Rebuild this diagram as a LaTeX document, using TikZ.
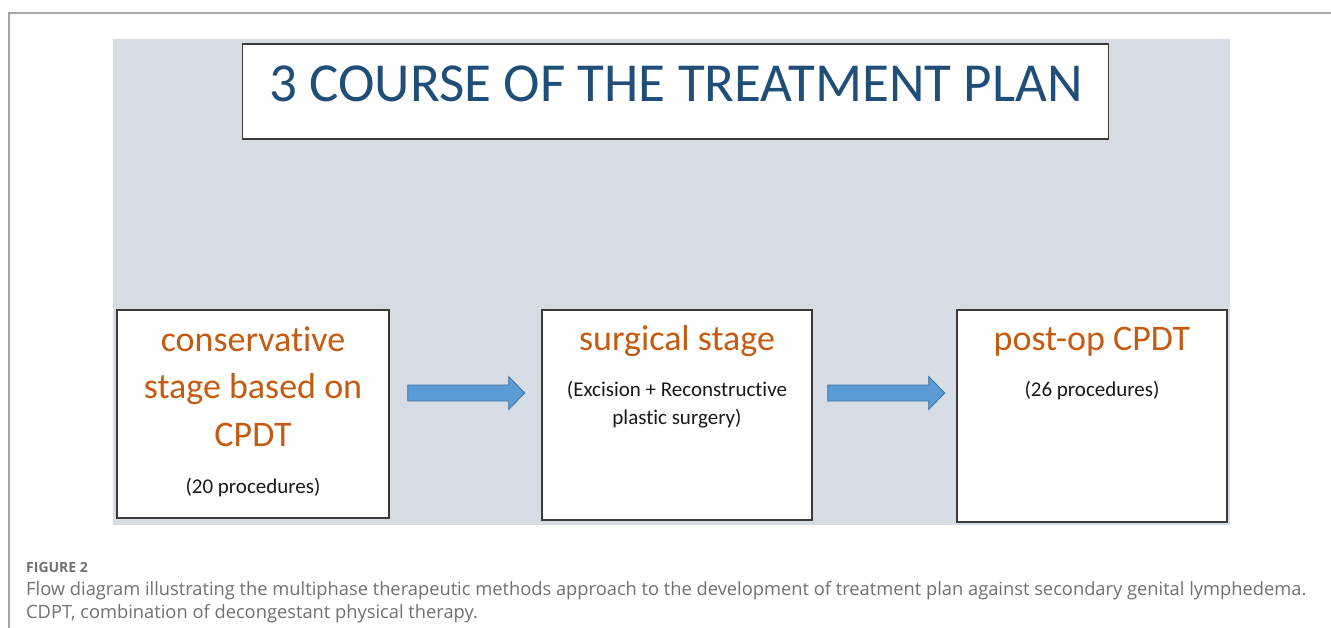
\documentclass[tikz,border=0pt]{standalone}
\usepackage{fontspec}
\setmainfont{Carlito}[Ligatures=NoCommon]
\newfontfamily\captionfont{Open Sans}[Ligatures=NoCommon]
\usetikzlibrary{calc}

\definecolor{panel}{HTML}{D5DCE4}
\definecolor{titleblue}{HTML}{1F4E79}
\definecolor{stageorange}{HTML}{C55A11}
\definecolor{arrowfill}{HTML}{5B9BD5}
\definecolor{arrowline}{HTML}{41719C}
\definecolor{boxline}{HTML}{3A3A3A}
\definecolor{framegray}{HTML}{A6A6A6}
\definecolor{captiongray}{HTML}{707070}

\tikzset{
  stagebox/.style={draw=boxline, line width=1.4pt, fill=white, inner sep=0pt},
  headtext/.style={text=stageorange, font=\fontsize{36}{44}\selectfont, inner sep=0pt, anchor=base},
  subtext/.style={text=black!90, font=\fontsize{21}{26}\selectfont, inner sep=0pt, anchor=base},
  captext/.style={text=captiongray, inner sep=0pt, anchor=base west},
  blockarrow/.pic={
    \draw[draw=arrowline, fill=arrowfill, line width=0.8pt, line join=miter]
      (0,-8) -- (101,-8) -- (101,-16.5) -- (117,0) -- (101,16.5) -- (101,8) -- (0,8) -- cycle;
  }
}

\begin{document}
\begin{tikzpicture}[x=1pt, y=-1pt]
\useasboundingbox (0,0) rectangle (1331,628);

% outer frame (top and left rules)
\coordinate (frameTL) at (9,13);
\coordinate (frameTR) at (1331,13);
\coordinate (frameBL) at (9,628);
\draw[framegray, line width=1.5pt] (frameTR) -- (frameTL) -- (frameBL);

% grey panel
\fill[panel] (113,39) rectangle (1230,525);

% title
\node[stagebox, minimum width=866pt, minimum height=95pt] (title) at (675.5,91.5) {};
\node[text=titleblue, font=\fontsize{55}{66}\selectfont, inner sep=0pt, anchor=base]
  (titletext) at (676,102) {3 COURSE OF THE TREATMENT PLAN};

% stage boxes
\node[stagebox, minimum width=272pt, minimum height=208pt] (b1) at (253,414) {};
\node[stagebox, minimum width=270pt, minimum height=210pt] (b2) at (677,415) {};
\node[stagebox, minimum width=270pt, minimum height=212pt] (b3) at (1092,416) {};

% stage 1 text
\node[headtext] (b1l1) at ($(b1.north)+(0,42)$) {conservative};
\node[headtext] (b1l2) at ($(b1.north)+(0,89)$) {stage based on};
\node[headtext] (b1l3) at ($(b1.north)+(0,137)$) {CPDT};
\node[subtext]  (b1s)  at ($(b1.north)+(0,184)$) {(20 procedures)};

% stage 2 text
\node[headtext] (b2l1) at ($(b2.north)+(0,41)$) {surgical stage};
\node[subtext]  (b2s1) at ($(b2.north)+(0,87)$) {(Excision + Reconstructive};
\node[subtext]  (b2s2) at ($(b2.north)+(0,115)$) {plastic surgery)};

% stage 3 text
\node[headtext] (b3l1) at ($(b3.north)+(0,41)$) {post-op CPDT};
\node[subtext]  (b3s)  at ($(b3.north)+(0,87)$) {(26 procedures)};

% block arrows between stages
\coordinate (a1) at ($(b1.east)+(18,-21)$);
\coordinate (a2) at ($(b2.east)+(15,-22)$);
\pic at (a1) {blockarrow};
\pic at (a2) {blockarrow};

% caption
\node[captext, font=\captionfont\bfseries\fontsize{14}{17}\selectfont] (figlabel) at (26,572) {FIGURE 2};
\node[captext, font=\captionfont\fontsize{18.3}{23}\selectfont] (cap1) at (26,595)
  {Flow diagram illustrating the multiphase therapeutic methods approach to the development of treatment plan against secondary genital lymphedema.};
\node[captext, font=\captionfont\fontsize{18.3}{23}\selectfont] (cap2) at (26,618)
  {CDPT, combination of decongestant physical therapy.};
\end{tikzpicture}
\end{document}
